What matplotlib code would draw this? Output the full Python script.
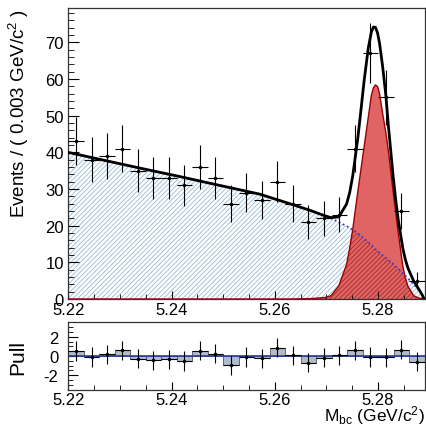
import numpy as np
import matplotlib
matplotlib.use("Agg")
import matplotlib.pyplot as plt
from matplotlib.ticker import MultipleLocator

plt.rcParams['font.family'] = ['Liberation Sans', 'DejaVu Sans']
plt.rcParams['mathtext.fontset'] = 'custom'
plt.rcParams['mathtext.rm'] = 'Liberation Sans'
plt.rcParams['mathtext.it'] = 'Liberation Sans:italic'
plt.rcParams['axes.unicode_minus'] = False
plt.rcParams['hatch.linewidth'] = 0.6

# binned data (M_bc, 0.003 GeV bins)
bin_w = 0.003
centers = [5.2215, 5.2245, 5.2275, 5.2305, 5.2335, 5.2365, 5.2395, 5.2425,
           5.2455, 5.2485, 5.2515, 5.2545, 5.2575, 5.2605, 5.2635, 5.2665,
           5.2695, 5.2725, 5.2755, 5.2785, 5.2815, 5.2845, 5.2875]
counts = [43, 38, 39, 41, 35, 33, 33, 31, 36, 33, 26, 29, 27, 32, 26, 21,
          22, 23, 41, 67, 55, 24, 5]
pulls = [0.52, -0.10, 0.17, 0.59, -0.28, -0.45, -0.35, -0.52, 0.56, 0.24,
         -0.94, -0.10, -0.24, 0.87, 0.07, -0.69, -0.17, 0.07, 0.59, -0.10,
         -0.14, 0.66, -0.59]

# fit curves
m_curve = [5.2200, 5.2261, 5.2339, 5.2416, 5.2493, 5.2571, 5.2629, 5.2668,
           5.2697, 5.2709, 5.2724, 5.2739, 5.2745, 5.2751, 5.2761, 5.2767,
           5.2773, 5.2781, 5.2787, 5.2791, 5.2795, 5.2799, 5.2803, 5.2809,
           5.2815, 5.2820, 5.2829, 5.2834, 5.2839, 5.2848, 5.2853, 5.2858,
           5.2869, 5.2878, 5.2884, 5.2887, 5.2889]
bkg = [40.0, 38.1, 35.7, 33.4, 31.0, 28.6, 26.0, 24.2,
       22.7, 22.0, 21.0, 19.9, 19.4, 18.9, 17.9, 17.2,
       16.5, 15.5, 14.7, 14.2, 13.6, 13.1, 12.6, 11.9,
       11.2, 10.6, 9.6, 8.9, 8.3, 7.0, 6.3, 5.6,
       4.0, 2.6, 1.4, 0.7, 0.0]
sig = [0, 0, 0, 0, 0, 0, 0.0, 0.1,
       0.4, 0.9, 3.6, 9.4, 13.8, 19.0, 29.5, 35.5,
       41.5, 49.5, 55.5, 57.6, 58.4, 58.0, 56.0, 50.5,
       45.5, 40.5, 29.5, 24.0, 18.2, 9.0, 5.6, 3.4,
       0.9, 0.3, 0.1, 0.0, 0.0]
total = [40.0, 38.1, 35.7, 33.4, 31.0, 28.6, 26.0, 24.2,
         22.7, 22.2, 22.4, 25.9, 29.0, 33.6, 44.1, 51.7,
         59.5, 68.4, 72.8, 74.2, 74.1, 72.6, 69.7, 63.3,
         55.7, 47.3, 33.8, 27.3, 21.7, 13.8, 10.7, 8.4,
         4.9, 2.9, 1.5, 0.7, 0.0]

m = np.array(m_curve); b = np.array(bkg); s = np.array(sig)
low = np.minimum(b, s)

fig = plt.figure(figsize=(4.26, 4.27), dpi=100)
ax = fig.add_axes([0.1603, 0.2974, 0.8362, 0.6808])
axp = fig.add_axes([0.1603, 0.0850, 0.8362, 0.1578])

# main panel
ax.fill_between(m, 0, s, facecolor="#e06464", edgecolor="none", zorder=1)
ax.fill_between(m, low, b, facecolor="none", edgecolor="#96bad6", hatch="///////",
                linewidth=0, zorder=1.5)
ax.fill_between(m, 0, low, facecolor="none", edgecolor="#a82828", hatch="///////",
                linewidth=0, zorder=2)
ax.plot(m, s, color="#990000", lw=1.0, zorder=3)
ax.plot(m, b, color="#3a3acc", lw=1.3, ls=(0, (1, 1.5)), zorder=4)
ax.plot(m, total, color="black", lw=2.0, zorder=5)
ax.errorbar(centers, counts, xerr=bin_w / 2, yerr=np.sqrt(counts), fmt="o", ms=1.5,
            color="black", elinewidth=0.8, capsize=0, zorder=6)

ax.set_xlim(5.22, 5.289)
ax.set_ylim(0, 79.3)
ax.xaxis.set_major_locator(MultipleLocator(0.02))
ax.xaxis.set_minor_locator(MultipleLocator(0.005))
ax.yaxis.set_major_locator(MultipleLocator(10))
ax.yaxis.set_minor_locator(MultipleLocator(2))
ax.xaxis.set_major_formatter(plt.FuncFormatter(lambda v, p: f"{v:.2f}"))
ax.tick_params(which="both", direction="in", top=False, right=False, labelsize=12)
ax.tick_params(axis="y", which="major", length=8, pad=3)
ax.tick_params(axis="y", which="minor", length=4.5)
ax.tick_params(axis="x", which="major", length=6, pad=2)
ax.tick_params(axis="x", which="minor", length=3.5)
ax.set_ylabel("Events / ( 0.003 GeV/c$^{2}$ )", fontsize=13.5, loc="top")
ax.yaxis.set_label_coords(-0.105, 1.0)

# pull panel
axp.bar(centers, pulls, width=bin_w, color="#b0bccb", edgecolor="#555555", lw=0.6,
        zorder=1)
axp.axhline(0, color="#2a3a9a", lw=1.2, zorder=2)
axp.errorbar(centers, pulls, xerr=bin_w / 2, yerr=1, fmt="o", ms=1.5,
             color="black", elinewidth=0.8, capsize=0, zorder=3)
axp.set_xlim(5.22, 5.289)
axp.set_ylim(-3.5, 3.5)
axp.xaxis.set_major_locator(MultipleLocator(0.02))
axp.xaxis.set_minor_locator(MultipleLocator(0.005))
axp.yaxis.set_major_locator(MultipleLocator(2))
axp.yaxis.set_minor_locator(MultipleLocator(0.5))
axp.xaxis.set_major_formatter(plt.FuncFormatter(lambda v, p: f"{v:.2f}"))
axp.tick_params(which="both", direction="in", top=False, right=False, labelsize=12)
axp.tick_params(axis="y", which="major", length=7, pad=7)
axp.tick_params(axis="y", which="minor", length=3.5)
axp.tick_params(axis="x", which="major", length=6, pad=1.5)
axp.tick_params(axis="x", which="minor", length=3.5)
axp.set_ylabel("Pull", fontsize=15)
axp.yaxis.set_label_coords(-0.115, 0.5)
axp.set_xlabel(r"M$_\mathrm{bc}$ (GeV/c$^{2}$)", fontsize=12.5, loc="right", labelpad=-3)

for a in (ax, axp):
    for sp in a.spines.values():
        sp.set_color("#333333")
        sp.set_linewidth(0.9)

fig.savefig("out.png", dpi=100)
